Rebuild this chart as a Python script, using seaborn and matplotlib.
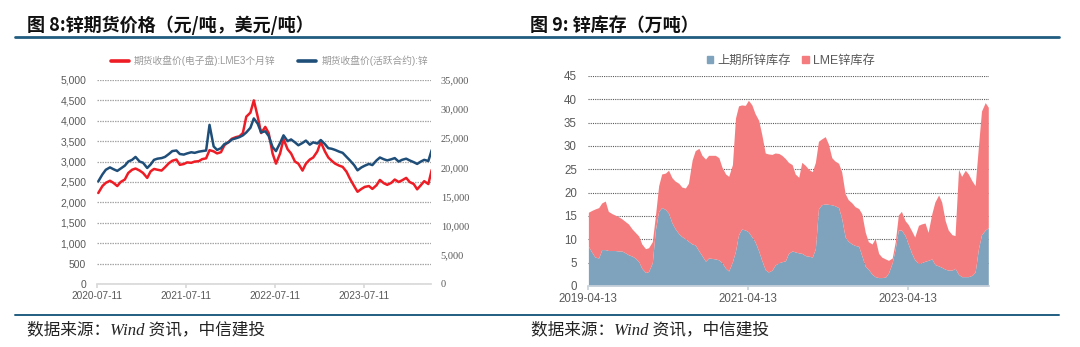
import numpy as np
import pandas as pd
import matplotlib
matplotlib.use("Agg")
import matplotlib.pyplot as plt
import seaborn as sns
import matplotlib.dates as mdates
from matplotlib.ticker import FuncFormatter, MultipleLocator
from matplotlib.lines import Line2D
from matplotlib.patches import Patch

# ---------------- data: figure 8 (semi-monthly closes) ----------------
price_dates = pd.date_range("2020-07-15", "2024-04-15", freq="SMS")
lme_zinc_usd = [
    2230, 2400, 2480, 2530, 2480, 2400, 2500, 2560, 2720, 2800, 2830,
    2780, 2720, 2600, 2760, 2820, 2800, 2780, 2860, 2960, 3020, 3050, 2920,
    2940, 2980, 2970, 3000, 3010, 3060, 3080, 3280, 3250, 3200, 3230, 3400,
    3480, 3560, 3600, 3620, 3700, 4100, 4200, 4500, 4100, 3700, 3850, 3700,
    3200, 2950, 3200, 3550, 3300, 3200, 3000, 2950, 2780, 2950, 3050, 3100,
    3250, 3480, 3250, 3100, 3020, 2950, 2900, 2870, 2750, 2580, 2400, 2260,
    2330, 2380, 2400, 2330, 2420, 2550, 2470, 2430, 2480, 2560, 2500, 2540,
    2600, 2500, 2450, 2320, 2420, 2520, 2450, 2800,
]
shfe_zinc_cny = [
    17600, 18800, 19600, 20000, 19700, 19400, 19800, 20300, 21000, 21300, 21800,
    21000, 20800, 19900, 20500, 21300, 21500, 21600, 21800, 22300, 22800, 22900, 22300,
    22200, 22400, 22600, 22500, 22700, 22800, 22900, 27300, 23600, 23000, 23300, 24000,
    24300, 24800, 25000, 25200, 25500, 26000, 26800, 28400, 27500, 26000, 26200, 25400,
    23500, 22800, 24200, 25500, 24500, 24800, 24300, 23800, 24200, 24600, 23900, 24300,
    24100, 24700, 24000, 23300, 23200, 23000, 22700, 22500, 21800, 21200, 20400, 19500,
    20000, 20300, 20600, 20400, 21200, 21700, 21400, 21200, 21400, 21600, 21000, 21300,
    21500, 21200, 20900, 20600, 21000, 21300, 21100, 23000,
]
price_ticks = ["2020-07-11", "2021-07-11", "2022-07-11", "2023-07-11"]
price_labels = ["期货收盘价(电子盘):LME3个月锌", "期货收盘价(活跃合约):锌"]

# ---------------- data: figure 9 (semi-monthly stocks, 万吨) ----------------
stock_dates = pd.date_range("2019-04-15", "2024-04-15", freq="SMS")
shfe_stock = [
    8.5, 7.2, 6.2, 6.0, 7.8, 7.8, 7.6, 7.6, 7.6, 7.5, 7.5, 7.1, 6.7, 6.4, 6.0, 5.2, 3.8,
    2.9, 3.1, 5.0, 12.0, 16.0, 16.8, 16.4, 15.6, 13.5, 12.3, 11.2, 10.6, 10.1, 9.6, 9.0,
    8.8, 7.5, 6.5, 5.3, 6.0, 5.9, 5.8, 5.6, 5.0, 3.8, 3.2, 5.2, 7.5, 11.0, 12.2, 12.0,
    11.6, 10.5, 9.5, 7.5, 5.5, 3.5, 3.0, 3.4, 4.5, 5.0, 5.2, 5.4, 7.0, 7.5, 7.3, 7.1,
    7.0, 6.5, 6.4, 6.2, 8.0, 16.5, 17.4, 17.6, 17.5, 17.4, 17.2, 16.8, 14.5, 10.5, 9.6, 9.0,
    8.7, 8.5, 6.5, 4.2, 3.6, 2.5, 2.0, 1.8, 1.8, 1.9, 2.8, 5.0, 8.0, 12.0, 12.0, 10.8,
    9.0, 7.0, 5.6, 4.8, 5.0, 5.3, 5.5, 5.8, 4.6, 4.3, 4.0, 3.6, 3.4, 3.4, 3.8, 2.5,
    2.0, 2.0, 2.0, 2.3, 3.0, 8.0, 11.0, 12.0, 12.5,
]
lme_stock = [
    7.3, 9.0, 10.3, 10.8, 10.0, 10.4, 8.4, 7.9, 7.6, 7.3, 6.9, 6.7, 6.6, 5.8, 5.5, 5.5, 5.2,
    5.1, 5.1, 4.5, 3.0, 5.5, 7.2, 7.8, 9.2, 9.7, 10.2, 10.8, 10.6, 10.9, 12.4, 18.0,
    20.2, 22.0, 21.5, 21.9, 22.0, 22.1, 22.2, 21.9, 20.5, 20.2, 20.3, 20.8, 28.5, 27.6, 26.6, 26.7,
    28.2, 28.3, 27.5, 28.0, 27.0, 25.0, 25.3, 24.8, 24.0, 23.4, 22.8, 21.9, 19.5, 18.5, 16.7, 16.2,
    19.5, 19.3, 18.6, 18.3, 18.5, 14.5, 14.1, 14.4, 13.0, 10.1, 9.6, 9.5, 10.0, 9.3, 8.9, 8.8,
    8.3, 8.1, 9.0, 7.3, 5.9, 6.5, 8.2, 5.2, 4.4, 3.9, 2.7, 1.0, 1.5, 3.2, 4.0, 3.2,
    4.2, 4.8, 4.9, 8.2, 8.3, 8.2, 6.0, 9.7, 13.4, 15.2, 14.0, 10.4, 8.6, 7.6, 7.0, 22.5,
    21.5, 22.8, 22.0, 20.2, 18.5, 22.0, 26.5, 27.3, 25.8,
]
stock_ticks = ["2019-04-13", "2021-04-13", "2023-04-13"]
stock_labels = ["上期所锌库存", "LME锌库存"]

# ---------------- style ----------------
sns.set_theme(style="white")
plt.rcParams["font.family"] = ["Liberation Sans", "Noto Sans CJK SC", "DejaVu Sans"]
plt.rcParams["axes.unicode_minus"] = False

RED = "#EE1C25"
NAVY = "#1F4E79"
AREA_BLUE = "#7FA3BD"
AREA_RED = "#F47C7E"
GREY_TXT = "#595959"
RULE = "#215D80"

fig = plt.figure(figsize=(10.8, 3.47), dpi=100)

# ---------------- figure 8 ----------------
ax1 = fig.add_axes([0.0901, 0.1816, 0.309, 0.5879])
dfp = pd.DataFrame({"date": price_dates, "lme": lme_zinc_usd, "shfe": shfe_zinc_cny})
sns.lineplot(data=dfp, x="date", y="lme", ax=ax1, color=RED, lw=1.8, legend=False)
ax2 = ax1.twinx()
sns.lineplot(data=dfp, x="date", y="shfe", ax=ax2, color=NAVY, lw=1.8, legend=False)

ax1.set_ylim(0, 5000)
ax2.set_ylim(0, 35000)
ax1.yaxis.set_major_locator(MultipleLocator(500))
ax2.yaxis.set_major_locator(MultipleLocator(5000))
fmt = FuncFormatter(lambda v, p: f"{int(v):,}")
ax1.yaxis.set_major_formatter(fmt)
ax2.yaxis.set_major_formatter(fmt)
ax1.set_xlim(pd.Timestamp("2020-07-11"), pd.Timestamp("2024-04-12"))
ax1.set_xticks(pd.to_datetime(price_ticks))
ax1.xaxis.set_major_formatter(mdates.DateFormatter("%Y-%m-%d"))
for a in (ax1, ax2):
    a.set_xlabel("")
    a.set_ylabel("")
    for s in a.spines.values():
        s.set_visible(False)
ax1.spines["bottom"].set_visible(True)
ax1.spines["bottom"].set_color("#D9D9D9")
ax1.yaxis.grid(True, color="#A6A6A6", lw=0.9, ls=(0, (1.2, 0.8)))
ax1.set_axisbelow(True)
ax1.tick_params(axis="y", length=0, labelsize=7.5, labelcolor=GREY_TXT, pad=8)
ax1.tick_params(axis="x", length=3, color="#D9D9D9", labelsize=7.3,
                labelcolor=GREY_TXT, pad=2, bottom=True)
ax2.tick_params(axis="y", length=0, labelsize=7.5, labelcolor=GREY_TXT, pad=7)
for t in ax2.get_yticklabels():
    t.set_fontfamily(["Liberation Serif"])

h1 = [Line2D([], [], color=RED, lw=2.6), Line2D([], [], color=NAVY, lw=2.6)]
ax2.legend(h1, price_labels, loc="center", bbox_to_anchor=(0.515, 1.093), ncol=2,
           frameon=False, fontsize=7, handlelength=1.9, handletextpad=0.5,
           columnspacing=2.3, labelcolor="#999999", borderaxespad=0, borderpad=0)

# ---------------- figure 9 ----------------
ax3 = fig.add_axes([0.5444, 0.1758, 0.3713, 0.6052])
ax3.stackplot(stock_dates, shfe_stock, lme_stock, colors=[AREA_BLUE, AREA_RED], lw=0)
ax3.set_ylim(0, 45)
ax3.yaxis.set_major_locator(MultipleLocator(5))
ax3.set_xlim(pd.Timestamp("2019-04-13"), pd.Timestamp("2024-04-18"))
ax3.set_xticks(pd.to_datetime(stock_ticks))
ax3.xaxis.set_major_formatter(mdates.DateFormatter("%Y-%m-%d"))
for s in ax3.spines.values():
    s.set_visible(False)
ax3.spines["bottom"].set_visible(True)
ax3.spines["bottom"].set_color("#C9D3DC")
ax3.yaxis.grid(True, color="#5A5A5A", lw=0.8, ls=(0, (1, 1)))
ax3.set_axisbelow(True)
ax3.tick_params(axis="y", length=0, labelsize=8.3, labelcolor=GREY_TXT, pad=8)
ax3.tick_params(axis="x", length=3, color="#C9D3DC", labelsize=8.3,
                labelcolor=GREY_TXT, pad=2, bottom=True)
h2 = [Patch(color=AREA_BLUE), Patch(color=AREA_RED)]
ax3.legend(h2, stock_labels, loc="center", bbox_to_anchor=(0.506, 1.071), ncol=2,
           frameon=False, fontsize=8.8, handlelength=0.55, handleheight=0.55,
           handletextpad=0.35, columnspacing=0.9, labelcolor=GREY_TXT,
           borderaxespad=0, borderpad=0)

# ---------------- titles, rules, sources ----------------
title_kw = dict(fontsize=13, fontweight="bold", va="center", color="#111111",
                family=["Noto Sans CJK SC", "DejaVu Sans"])
fig.text(0.025, 0.928, "图 8:锌期货价格（元/吨，美元/吨）", **title_kw)
fig.text(0.4907, 0.928, "图 9: 锌库存（万吨）", **title_kw)
fig.add_artist(Line2D([0.0135, 0.9805], [0.893, 0.893], color=RULE, lw=2.0))
fig.add_artist(Line2D([0.0135, 0.9805], [0.0922, 0.0922], color=RULE, lw=1.4))
src_kw = dict(fontsize=12, va="center", color="#222222", style="italic",
              family=["Liberation Serif", "Noto Sans CJK SC"])
fig.text(0.025, 0.049, "数据来源：Wind 资讯，中信建投", **src_kw)
fig.text(0.4917, 0.049, "数据来源：Wind 资讯，中信建投", **src_kw)

fig.savefig("out.png", dpi=100)
